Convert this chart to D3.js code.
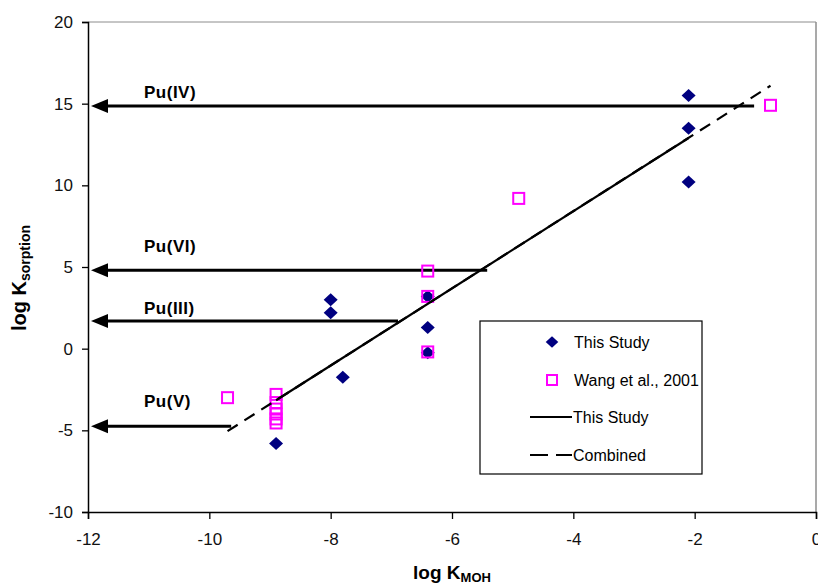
<!DOCTYPE html>
<html>
<head>
<meta charset="utf-8">
<script src="https://cdn.jsdelivr.net/npm/d3@7"></script>
<style>
  html, body { margin: 0; padding: 0; background: #fff; }
  svg { display: block; font-family: Arial, "Liberation Sans", sans-serif; }
</style>
</head>
<body>
<svg id="chart" width="818" height="586"></svg>
<script>
// ---------- data ----------
const xTicks = [-12, -10, -8, -6, -4, -2, 0];
const yTicks = [-10, -5, 0, 5, 10, 15, 20];

// This Study (filled navy diamonds)
const thisStudyX = [-2.1, -2.1, -2.1, -8.0, -8.0, -7.8, -6.4, -6.4, -6.4, -8.9];
const thisStudyY = [15.5, 13.5, 10.2, 3.0, 2.2, -1.75, 3.2, 1.3, -0.25, -5.8];

// Wang et al., 2001 (open magenta squares)
const wangX = [-9.7, -8.9, -8.9, -8.9, -8.9, -8.9, -8.9, -6.4, -6.4, -6.4, -4.9, -0.75];
const wangY = [-3.0, -2.8, -3.3, -3.7, -4.0, -4.3, -4.55, 4.75, 3.2, -0.2, 9.2, 14.9];

// Regression lines (end points)
const thisStudyLineX = [-8.9, -2.1];
const thisStudyLineY = [-3.16, 12.9];
const combinedLineX = [-9.7, -0.75];
const combinedLineY = [-5.05, 16.1];

// Oxidation-state arrows (level, end of arrow on x, label height)
const arrowLabels = ["Pu(IV)", "Pu(VI)", "Pu(III)", "Pu(V)"];
const arrowY = [14.85, 4.8, 1.7, -4.75];
const arrowEndX = [-1.02, -5.42, -6.89, -9.64];
const arrowLabelY = [15.7, 6.3, 2.5, -3.2];

const legendLabels = ["This Study", "Wang et al., 2001", "This Study", "Combined"];

// ---------- layout ----------
const svg = d3.select("#chart");
const L = 88, R = 816, T = 22, B = 512;
const x = d3.scaleLinear().domain([-12, 0]).range([L, R]);
const y = d3.scaleLinear().domain([-10, 20]).range([B, T]);

// plot border (gray top/right)
svg.append("line").attr("x1", L).attr("x2", R).attr("y1", T).attr("y2", T)
  .attr("stroke", "#8c8c8c").attr("stroke-width", 1);
svg.append("line").attr("x1", R).attr("x2", R).attr("y1", T).attr("y2", B)
  .attr("stroke", "#8c8c8c").attr("stroke-width", 1.5);

// axes
const fmt = d => String(d);
const yAxis = svg.append("g").attr("transform", `translate(${L},0)`)
  .call(d3.axisLeft(y).tickValues(yTicks).tickSize(6).tickPadding(9).tickFormat(fmt));
const xAxis = svg.append("g").attr("transform", `translate(0,${B})`)
  .call(d3.axisBottom(x).tickValues(xTicks).tickSize(7).tickPadding(14).tickFormat(fmt));
[yAxis, xAxis].forEach(g => {
  g.select(".domain").attr("stroke", "#000").attr("stroke-width", 1.5);
  g.selectAll(".tick line").attr("stroke", "#000").attr("stroke-width", 1.3);
  g.selectAll(".tick text").attr("font-size", 17).attr("fill", "#111")
    .attr("font-family", "Arial, 'Liberation Sans', sans-serif");
});

// axis titles
const xt = svg.append("text").attr("x", 452).attr("y", 579).attr("text-anchor", "middle")
  .attr("font-weight", "bold").attr("font-size", 19);
xt.append("tspan").text("log K");
xt.append("tspan").attr("font-size", 13).attr("dy", 3).text("MOH");

const yt = svg.append("text").attr("transform", "translate(26,278) rotate(-90)")
  .attr("text-anchor", "middle").attr("font-weight", "bold").attr("font-size", 20);
yt.append("tspan").text("log K");
yt.append("tspan").attr("font-size", 14).attr("dy", 4).text("sorption");

// arrows
const arrows = arrowLabels.map((lab, i) => ({ lab, yv: arrowY[i], xe: arrowEndX[i], ly: arrowLabelY[i] }));
const ag = svg.append("g");
arrows.forEach(a => {
  const yy = y(a.yv);
  const tip = x(-12) + 3;
  ag.append("line").attr("x1", tip + 10).attr("x2", x(a.xe)).attr("y1", yy).attr("y2", yy)
    .attr("stroke", "#000").attr("stroke-width", 3);
  ag.append("path").attr("d", `M${tip},${yy} L${tip + 17},${yy - 7} L${tip + 17},${yy + 7} Z`)
    .attr("fill", "#000");
  ag.append("text").attr("x", 144).attr("y", y(a.ly)).attr("dy", "0.35em")
    .attr("font-weight", "bold").attr("font-size", 17).attr("letter-spacing", 0.5)
    .text(a.lab);
});

// markers
const diamond = "M0,-6.5 L7,0 L0,6.5 L-7,0 Z";
svg.append("g").selectAll("path").data(thisStudyX.map((v, i) => [v, thisStudyY[i]]))
  .join("path").attr("d", diamond)
  .attr("transform", d => `translate(${x(d[0])},${y(d[1])})`)
  .attr("fill", "#000080");

svg.append("g").selectAll("rect").data(wangX.map((v, i) => [v, wangY[i]]))
  .join("rect")
  .attr("x", d => x(d[0]) - 5.5).attr("y", d => y(d[1]) - 5.5)
  .attr("width", 11).attr("height", 11)
  .attr("fill", "none").attr("stroke", "#ff00ff").attr("stroke-width", 2);

// regression lines
const line = d3.line().x(d => x(d[0])).y(d => y(d[1]));
svg.append("path").datum(combinedLineX.map((v, i) => [v, combinedLineY[i]]))
  .attr("d", line).attr("stroke", "#000").attr("stroke-width", 2.2)
  .attr("stroke-dasharray", "12,8").attr("fill", "none");
svg.append("path").datum(thisStudyLineX.map((v, i) => [v, thisStudyLineY[i]]))
  .attr("d", line).attr("stroke", "#000").attr("stroke-width", 2.2).attr("fill", "none");

// legend
const lg = svg.append("g");
lg.append("rect").attr("x", 480).attr("y", 321).attr("width", 222).attr("height", 153)
  .attr("fill", "#fff").attr("stroke", "#000").attr("stroke-width", 1.2);
const rowY = [342, 380, 417, 455];
lg.append("path").attr("d", diamond).attr("transform", `translate(552,${rowY[0]}) scale(0.9)`)
  .attr("fill", "#000080");
lg.append("rect").attr("x", 547).attr("y", rowY[1] - 5).attr("width", 10).attr("height", 10)
  .attr("fill", "none").attr("stroke", "#ff00ff").attr("stroke-width", 2);
lg.append("line").attr("x1", 530).attr("x2", 572).attr("y1", rowY[2]).attr("y2", rowY[2])
  .attr("stroke", "#000").attr("stroke-width", 2.2);
lg.append("line").attr("x1", 530).attr("x2", 572).attr("y1", rowY[3]).attr("y2", rowY[3])
  .attr("stroke", "#000").attr("stroke-width", 2.2).attr("stroke-dasharray", "18,8");
legendLabels.forEach((t, i) => {
  lg.append("text").attr("x", i < 2 ? 574 : 573).attr("y", rowY[i]).attr("dy", "0.35em")
    .attr("font-size", 16).attr("fill", "#000").text(t);
});
</script>
</body>
</html>
